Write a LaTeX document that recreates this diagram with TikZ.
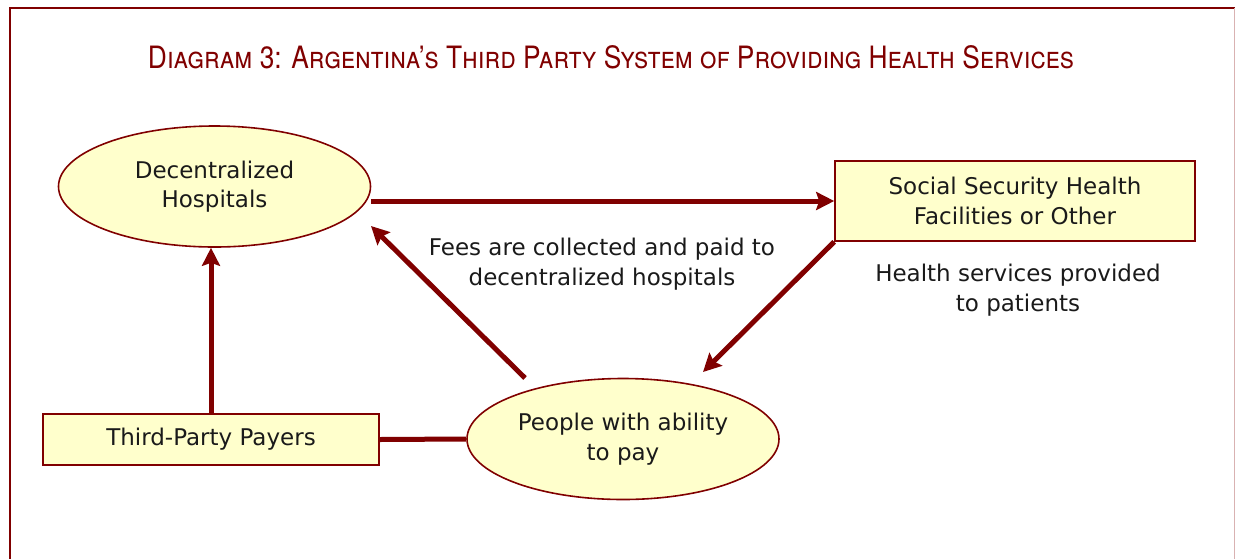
\documentclass[tikz,border=0pt]{standalone}
\usepackage{fontspec}
\usepackage{graphicx}
\setmainfont{DejaVu Sans}
\newfontfamily\titlefont{TeX Gyre Heros}
\usetikzlibrary{arrows.meta,shapes.geometric,calc}
\definecolor{maroon}{RGB}{128,0,0}
\definecolor{cream}{RGB}{255,255,204}
\definecolor{ink}{RGB}{26,26,26}
\tikzset{
	oval/.style={ellipse, draw=maroon, line width=1.6pt, fill=cream, inner sep=0pt,
		minimum width=312pt, minimum height=121pt, text=ink, align=center,
		font=\fontsize{23}{29.5}\selectfont},
	box/.style={rectangle, draw=maroon, line width=1.6pt, fill=cream, inner sep=0pt,
		text=ink, align=center, font=\fontsize{23}{29.5}\selectfont},
	note/.style={text=ink, align=center, font=\fontsize{23}{29.5}\selectfont},
	flow/.style={draw=maroon, line width=5pt, -{Stealth[length=18pt,width=18pt,inset=3pt]}},
	tie/.style={draw=maroon, line width=5pt}
}

\begin{document}
\begin{tikzpicture}[x=1pt,y=-1pt]
			%%%%% START %%%%%
			
			\useasboundingbox (0,0) rectangle (1235,558);
			\draw[maroon, line width=2pt] (10,570) -- (10,8) -- (1236,8);
			\draw[maroon!30, line width=1pt] (1234,8) -- (1234,570);
			
			\node[anchor=base, text=maroon] (title) at (611,68)
				{\resizebox{926pt}{23pt}{\titlefont\scshape Diagram 3: Argentina’s Third Party System of Providing Health Services}};
			
			\node[oval] (hosp) at (214.5,186.5) {Decentralized\\Hospitals};
			\node[box, minimum width=360pt, minimum height=80pt] (soc) at (1015,201) {Social Security Health\\Facilities or Other};
			\node[box, minimum width=336pt, minimum height=51pt] (tpp) at (211,439.5) {Third-Party Payers};
			\node[oval] (people) at (623,439) {People with ability\\to pay};
			
			\node[note] (fees) at (602,264) {Fees are collected and paid to\\decentralized hospitals};
			\node[note] (care) at (1018,290) {Health services provided\\to patients};
			
			\coordinate (payIn) at (703,372);
			\coordinate (feeOut) at (525,378);
			\coordinate (feeIn) at (371,226);
			
			\draw[flow] (hosp.east |- soc.west) -- (soc.west);
			\draw[flow] (soc.south west) -- (payIn);
			\draw[flow] (feeOut) -- (feeIn);
			\draw[flow] (tpp.north) -- (tpp.north |- hosp.south);
			\draw[tie] (tpp.east) -- (people.west);
			
			%%%%% END %%%%%
\end{tikzpicture}
\end{document}
